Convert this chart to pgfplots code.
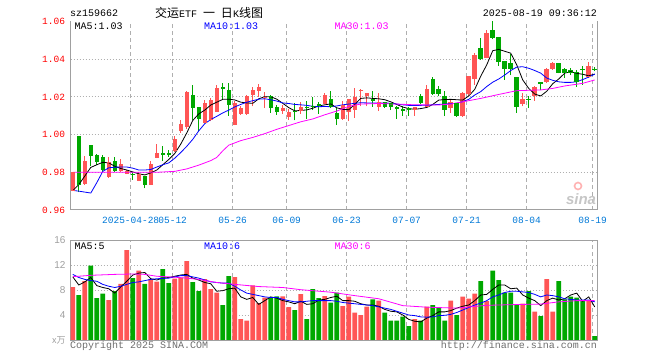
\documentclass[border=0pt]{standalone}
\usepackage{pgfplots}
\pgfplotsset{compat=1.18}
\usepackage{pgfplotstable}
\usepackage{fontspec}
\newfontfamily\mono{Liberation Mono}
\newfontfamily\cjk{Noto Sans CJK SC}
\newfontfamily\sansf{Liberation Sans}
\definecolor{upc}{RGB}{255,85,85}
\definecolor{dnc}{RGB}{0,168,0}
\definecolor{framegray}{RGB}{160,160,160}
\definecolor{gridgray}{RGB}{175,175,175}
\definecolor{datec}{RGB}{0,120,215}
\definecolor{mag}{RGB}{255,0,255}
\definecolor{txtgray}{RGB}{110,110,110}

\pgfplotstableread{
i O H L C V
0 0.9703 0.9800 0.9700 0.9800 8.48
2 0.9740 0.9885 0.9735 0.9860 9.44
6 0.9780 0.9880 0.9770 0.9850 6.40
8 0.9810 0.9870 0.9800 0.9840 9.00
9 0.9793 0.9810 0.9790 0.9806 14.4
11 0.9759 0.9800 0.9753 0.9787 11.1
13 0.9736 0.9858 0.9736 0.9840 9.76
14 0.9880 0.9948 0.9875 0.9900 9.33
17 0.9914 0.9990 0.9910 0.9975 9.81
18 1.0023 1.0077 1.0010 1.0054 9.97
19 1.0042 1.0230 1.0030 1.0225 12.64
22 1.0067 1.0185 1.0060 1.0165 9.76
23 1.0081 1.0195 1.0070 1.0180 8.16
24 1.0125 1.0262 1.0120 1.0247 7.57
27 1.0054 1.0180 1.0050 1.0165 10.08
28 1.0112 1.0150 1.0105 1.0140 3.36
29 1.0113 1.0210 1.0105 1.0200 3.09
30 1.0215 1.0252 1.0150 1.0233 8.75
31 1.0233 1.0268 1.0200 1.0248 5.92
32 1.0195 1.0225 1.0140 1.0198 6.77
35 1.0126 1.0155 1.0110 1.0140 7.00
36 1.0095 1.0135 1.0080 1.0115 5.28
38 1.0130 1.0172 1.0110 1.0142 7.36
42 1.0166 1.0220 1.0160 1.0208 7.04
45 1.0084 1.0177 1.0080 1.0154 5.44
46 1.0125 1.0190 1.0072 1.0185 6.93
47 1.0133 1.0245 1.0090 1.0197 4.37
48 1.0233 1.0243 1.0150 1.0236 4.00
49 1.0210 1.0222 1.0150 1.0219 5.33
51 1.0147 1.0221 1.0125 1.0168 6.30
57 1.0132 1.0147 1.0100 1.0142 3.36
59 1.0150 1.0265 1.0145 1.0242 5.33
63 1.0142 1.0186 1.0116 1.0168 6.30
65 1.0102 1.0225 1.0095 1.0218 6.93
66 1.0218 1.0310 1.0205 1.0308 6.61
67 1.0300 1.0432 1.0265 1.0418 7.41
69 1.0410 1.0555 1.0405 1.0537 6.24
75 1.0165 1.0220 1.0150 1.0185 5.81
77 1.0207 1.0260 1.0180 1.0252 4.53
79 1.0280 1.0352 1.0276 1.0347 9.76
80 1.0350 1.0387 1.0343 1.0378 4.53
86 1.0307 1.0387 1.0299 1.0360 6.40
}\up

\pgfplotstableread{
i O H L C V
1 0.9990 0.9990 0.9695 0.9738 7.20
3 0.9944 0.9944 0.9835 0.9890 11.9
4 0.9890 0.9895 0.9840 0.9855 6.72
5 0.9880 0.9890 0.9800 0.9815 7.41
7 0.9858 0.9880 0.9800 0.9812 7.84
10 0.9790 0.9800 0.9760 0.9786 9.92
12 0.9776 0.9780 0.9715 0.9736 9.00
15 0.9900 0.9940 0.9860 0.9897 11.36
16 0.9898 0.9920 0.9880 0.9895 9.12
20 1.0207 1.0265 1.0080 1.0146 9.28
21 1.0146 1.0146 1.0019 1.0084 7.84
25 1.0249 1.0274 1.0186 1.0245 5.60
26 1.0235 1.0274 1.0100 1.0160 10.24
33 1.0202 1.0208 1.0115 1.0145 6.77
34 1.0145 1.0155 1.0105 1.0123 7.00
37 1.0125 1.0165 1.0075 1.0122 4.80
39 1.0145 1.0180 1.0085 1.0142 3.36
40 1.0150 1.0200 1.0130 1.0147 8.16
41 1.0158 1.0172 1.0110 1.0155 6.72
43 1.0187 1.0230 1.0140 1.0150 5.97
44 1.0110 1.0142 1.0050 1.0086 7.57
50 1.0185 1.0230 1.0147 1.0182 6.50
52 1.0168 1.0175 1.0140 1.0150 4.37
53 1.0165 1.0170 1.0130 1.0147 3.09
54 1.0143 1.0151 1.0084 1.0140 3.09
55 1.0133 1.0151 1.0100 1.0130 3.73
56 1.0137 1.0147 1.0100 1.0134 2.24
58 1.0200 1.0215 1.0160 1.0168 3.09
60 1.0295 1.0305 1.0212 1.0218 5.60
61 1.0242 1.0260 1.0203 1.0218 5.17
62 1.0200 1.0230 1.0098 1.0135 3.09
64 1.0165 1.0168 1.0093 1.0102 4.00
68 1.0458 1.0510 1.0396 1.0405 9.44
70 1.0551 1.0600 1.0505 1.0518 11.1
71 1.0518 1.0518 1.0365 1.0390 9.60
72 1.0390 1.0392 1.0290 1.0350 7.57
73 1.0378 1.0430 1.0316 1.0350 7.57
74 1.0305 1.0305 1.0116 1.0147 5.60
76 1.0187 1.0205 1.0140 1.0184 7.84
78 1.0274 1.0276 1.0235 1.0270 3.84
81 1.0375 1.0378 1.0325 1.0330 9.44
82 1.0346 1.0352 1.0300 1.0330 6.50
83 1.0340 1.0352 1.0316 1.0330 6.93
84 1.0330 1.0345 1.0254 1.0282 6.77
85 1.0347 1.0365 1.0265 1.0343 6.24
87 1.0348 1.0360 1.0335 1.0345 0.64
}\down

\pgfplotstableread{
i ma5 ma10
0 0.9703 0.9704
1 0.9735 0.9700
2 0.9780 0.9695
3 0.9826 0.9690
4 0.9840 0.9745
5 0.9853 0.9805
6 0.9850 0.9824
7 0.9832 0.9827
8 0.9820 0.9828
9 0.9812 0.9828
10 0.9802 0.9822
11 0.9792 0.9812
12 0.9786 0.9812
13 0.9797 0.9815
14 0.9812 0.9828
15 0.9840 0.9840
16 0.9868 0.9850
17 0.9900 0.9875
18 0.9950 0.9905
19 1.0009 0.9938
20 1.0075 0.9975
21 1.0110 1.0020
22 1.0130 1.0058
23 1.0157 1.0080
24 1.0172 1.0097
25 1.0187 1.0115
26 1.0188 1.0130
27 1.0184 1.0147
28 1.0172 1.0160
29 1.0168 1.0172
30 1.0166 1.0180
31 1.0190 1.0188
32 1.0201 1.0190
33 1.0201 1.0185
34 1.0188 1.0178
35 1.0166 1.0168
36 1.0143 1.0165
37 1.0126 1.0160
38 1.0128 1.0158
39 1.0131 1.0155
40 1.0140 1.0150
41 1.0152 1.0148
42 1.0158 1.0149
43 1.0163 1.0148
44 1.0142 1.0152
45 1.0134 1.0158
46 1.0132 1.0162
47 1.0160 1.0166
48 1.0192 1.0169
49 1.0195 1.0168
50 1.0192 1.0168
51 1.0190 1.0168
52 1.0185 1.0168
53 1.0174 1.0166
54 1.0160 1.0162
55 1.0146 1.0158
56 1.0138 1.0155
57 1.0134 1.0155
58 1.0138 1.0155
59 1.0144 1.0156
60 1.0160 1.0158
61 1.0183 1.0160
62 1.0186 1.0162
63 1.0187 1.0164
64 1.0185 1.0166
65 1.0183 1.0175
66 1.0205 1.0187
67 1.0240 1.0210
68 1.0310 1.0228
69 1.0370 1.0255
70 1.0445 1.0278
71 1.0452 1.0295
72 1.0442 1.0316
73 1.0432 1.0340
74 1.0370 1.0358
75 1.0290 1.0360
76 1.0245 1.0352
77 1.0215 1.0340
78 1.0205 1.0326
79 1.0230 1.0300
80 1.0270 1.0288
81 1.0295 1.0280
82 1.0326 1.0277
83 1.0334 1.0277
84 1.0325 1.0280
85 1.0320 1.0292
86 1.0312 1.0305
87 1.0321 1.0321
}\pma

\pgfplotstableread{
i ma30
0 0.9800
5 0.9800
10 0.9800
14 0.9800
17 0.9805
19 0.9818
21 0.9838
23 0.9862
24 0.9879
25 0.9914
26 0.9944
28 0.9968
30 0.9985
32 1.0005
34 1.0028
36 1.0048
38 1.0068
40 1.0083
42 1.0105
44 1.0125
46 1.0150
48 1.0162
51 1.0165
54 1.0162
57 1.0158
61 1.0157
63 1.0162
65 1.0174
68 1.0192
71 1.0213
74 1.0233
77 1.0236
78 1.0237
80 1.0245
82 1.0258
85 1.0272
87 1.0290
}\pmathirty

\pgfplotstableread{
i v5 v10
0 10.1 10.5
1 8.8 10.0
2 9.3 9.7
3 10.0 9.5
4 8.7 9.4
5 8.4 8.9
6 8.2 8.6
7 7.5 8.4
8 8.5 8.6
9 9.4 8.9
10 10.4 9.2
11 10.7 9.3
12 10.8 9.5
13 9.8 9.7
14 9.6 9.8
15 9.9 9.85
16 10.0 9.9
17 10.2 10.1
18 10.4 10.3
19 10.5 10.3
20 9.9 10.1
21 9.6 9.9
22 9.2 9.6
23 9.0 9.3
24 7.8 9.2
25 7.9 9.1
26 8.2 9.1
27 8.3 8.6
28 6.9 8.0
29 6.5 7.5
30 6.8 7.3
31 5.7 7.1
32 6.3 6.9
33 6.9 6.8
34 6.7 6.8
35 6.3 6.5
36 6.1 6.3
37 5.8 6.1
38 6.2 6.1
39 5.7 6.2
40 5.8 6.3
41 6.4 6.3
42 6.5 6.3
43 6.8 6.3
44 7.0 6.2
45 6.3 6.0
46 6.3 5.9
47 6.2 5.8
48 5.8 5.7
49 5.6 5.6
50 5.6 5.5
51 5.4 5.3
52 4.9 5.1
53 4.6 4.9
54 4.5 4.6
55 4.0 4.3
56 3.3 4.0
57 3.0 3.9
58 2.9 3.7
59 3.5 3.65
60 3.9 3.7
61 4.5 3.9
62 4.5 3.95
63 4.7 4.1
64 5.1 4.4
65 5.4 4.8
66 5.6 5.2
67 6.3 5.6
68 7.2 5.9
69 7.3 6.3
70 8.1 6.9
71 8.8 7.2
72 8.8 7.6
73 8.2 7.8
74 8.3 7.8
75 7.2 7.7
76 6.7 7.6
77 6.3 7.3
78 5.5 6.9
79 6.3 7.2
80 6.7 7.1
81 6.4 6.9
82 6.6 6.6
83 7.2 6.5
84 7.5 6.4
85 6.2 6.4
86 6.9 6.4
87 5.3 6.1
}\vma

\pgfplotstableread{
i v30
0 10.13
3 10.35
7 10.5
10 10.56
12 10.5
14 10.2
17 10.05
19 9.9
21 9.7
24 9.2
27 8.9
31 8.55
35 8.4
38 8.05
43 7.65
47 7.1
51 6.6
55 5.5
59 5.25
64 5.1
69 5.55
73 5.65
78 5.75
81 6.1
84 6.3
87 6.3
}\vmathirty

\newcommand\drawcandles[2]{%
  \pgfplotstablegetrowsof{#1}%
  \pgfmathtruncatemacro\nrows{\pgfplotsretval-1}%
  \pgfplotsforeachungrouped \r in {0,...,\nrows}{%
    \pgfplotstablegetelem{\r}{i}\of{#1}\let\cX\pgfplotsretval
    \pgfplotstablegetelem{\r}{O}\of{#1}\let\cO\pgfplotsretval
    \pgfplotstablegetelem{\r}{H}\of{#1}\let\cH\pgfplotsretval
    \pgfplotstablegetelem{\r}{L}\of{#1}\let\cL\pgfplotsretval
    \pgfplotstablegetelem{\r}{C}\of{#1}\let\cC\pgfplotsretval
    \edef\tmp{%
      \noexpand\addplot[#2, line width=1bp, forget plot] coordinates {(\cX,\cL) (\cX,\cH)};
      \noexpand\addplot[#2, line width=4.5bp, forget plot, mark=-, mark size=2.25bp, mark options={line width=0.9bp, solid}] coordinates {(\cX,\cO) (\cX,\cC)};
    }\tmp
  }%
}

\newcommand\tkf{\mono\fontsize{9.5bp}{11bp}\selectfont}
\newcommand\lbf{\mono\fontsize{10bp}{12bp}\selectfont}

\begin{document}
\begin{tikzpicture}
\path[use as bounding box] (0,0) rectangle (660bp,360bp);

% ---------- price panel ----------
\begin{axis}[
  at={(70.7bp,150bp)}, anchor=south west, scale only axis,
  width=526.3bp, height=188.5bp,
  xmin=-0.35, xmax=87.38, ymin=0.96, ymax=1.06,
  clip=false,
  axis line style={draw=none},
  major tick length=0pt,
  xtick={9.65,16.65,26.65,35.65,45.65,55.65,65.65,75.65,86.65},
  xticklabels={2025-04-28,05-12,05-26,06-09,06-23,07-07,07-21,08-04,08-19},
  xmajorgrids,
  x grid style={gridgray, dash pattern=on 4bp off 3bp, line width=0.8bp},
  ytick={0.98,1.00,1.02,1.04},
  yticklabels={0.98,1.00,1.02,1.04},
  ymajorgrids,
  y grid style={gridgray, dash pattern=on 1bp off 2bp, line width=0.8bp},
  extra y ticks={0.96,1.06},
  extra y tick labels={0.96,1.06},
  extra y tick style={ymajorgrids=false},
  xticklabel style={font=\tkf, text=datec, inner sep=0pt, anchor=north, yshift=-7bp},
  yticklabel style={font=\tkf, text=red, inner sep=0pt, anchor=east, xshift=-5.5bp},
]
\drawcandles{\up}{upc}
\drawcandles{\down}{dnc}
\addplot[black, line width=0.8bp, forget plot] table[x=i, y=ma5] {\pma};
\addplot[blue, line width=0.8bp, forget plot] table[x=i, y=ma10] {\pma};
\addplot[mag, line width=0.8bp, forget plot] table[x=i, y=ma30] {\pmathirty};
\draw[framegray, line width=1bp] (rel axis cs:0,1) -- (rel axis cs:0,0) -- (rel axis cs:1,0) -- (rel axis cs:1,1);
\end{axis}

% ---------- volume panel ----------
\begin{axis}[
  at={(70.7bp,20bp)}, anchor=south west, scale only axis,
  width=526.3bp, height=100bp,
  xmin=-0.35, xmax=87.38, ymin=0, ymax=16,
  axis line style={framegray, line width=1bp},
  major tick length=0pt,
  xtick={9.65,16.65,26.65,35.65,45.65,55.65,65.65,75.65,86.65},
  xticklabels={},
  xmajorgrids,
  x grid style={gridgray, dash pattern=on 4bp off 3bp, line width=0.8bp},
  ytick={4,8,12},
  yticklabels={4,8,12},
  ymajorgrids,
  y grid style={gridgray, dash pattern=on 1bp off 2bp, line width=0.8bp},
  extra y ticks={0,16},
  extra y tick labels={{\cjk\fontsize{9bp}{10bp}\selectfont x万},16},
  extra y tick style={ymajorgrids=false},
  yticklabel style={font=\sansf\fontsize{10bp}{11bp}\selectfont, text=gray!75, inner sep=0pt, anchor=east, xshift=-5bp},
]
\addplot[ybar, bar width=4.6bp, bar shift=0pt, fill=upc, draw=none, forget plot] table[x=i, y=V] {\up};
\addplot[ybar, bar width=4.6bp, bar shift=0pt, fill=dnc, draw=none, forget plot] table[x=i, y=V] {\down};
\addplot[black, line width=0.8bp, forget plot] table[x=i, y=v5] {\vma};
\addplot[blue, line width=0.8bp, forget plot] table[x=i, y=v10] {\vma};
\addplot[mag, line width=0.8bp, forget plot] table[x=i, y=v30] {\vmathirty};
\end{axis}

% ---------- texts ----------
\node[anchor=west, inner sep=0pt, font=\lbf] at (70bp,347bp) {sz159662};
\node[inner sep=0pt] at (209bp,347bp) {\cjk\fontsize{12bp}{14bp}\selectfont 交运{\lbf ETF}\hspace{6bp}一\hspace{6bp}日{\lbf K}线图};
\node[anchor=east, inner sep=0pt, font=\lbf] at (597bp,347bp) {2025-08-19 09:36:12};

\node[anchor=west, inner sep=0pt, font=\lbf, text=black] at (74.5bp,334bp) {MA5:1.03};
\node[anchor=west, inner sep=0pt, font=\lbf, text=blue] at (204bp,334bp) {MA10:1.03};
\node[anchor=west, inner sep=0pt, font=\lbf, text=mag] at (334.5bp,334bp) {MA30:1.03};

\node[anchor=west, inner sep=0pt, font=\lbf, text=black] at (74.5bp,114bp) {MA5:5};
\node[anchor=west, inner sep=0pt, font=\lbf, text=blue] at (204bp,114bp) {MA10:6};
\node[anchor=west, inner sep=0pt, font=\lbf, text=mag] at (334.5bp,114bp) {MA30:6};

\node[anchor=west, inner sep=0pt, font=\lbf, text=txtgray] at (70bp,14bp) {Copyright 2025 SINA.COM};
\node[anchor=east, inner sep=0pt, font=\lbf, text=txtgray] at (597bp,14bp) {http://finance.sina.com.cn};

% sina watermark
\draw[red!30, line width=1.6bp] (578bp,174bp) circle (3.5bp);
\node[inner sep=0pt, font=\sansf\bfseries\itshape\fontsize{15bp}{16bp}\selectfont, text=gray!45] at (581bp,161bp) {sina};
\end{tikzpicture}
\end{document}
